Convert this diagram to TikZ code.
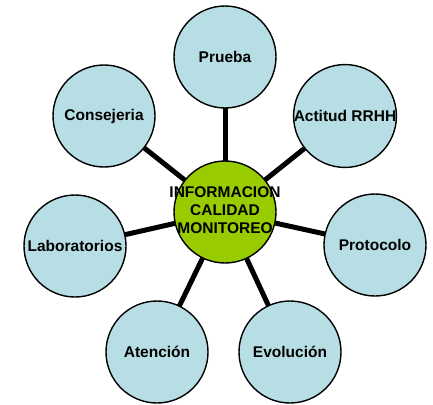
\documentclass[tikz,border=0pt]{standalone}
\usepackage{fontspec}
\setmainfont{Liberation Sans}
\usetikzlibrary{backgrounds}

\definecolor{celeste}{RGB}{183,222,228}
\definecolor{verde}{RGB}{153,204,0}

\begin{document}
\begin{tikzpicture}[x=1pt, y=-1pt,
    tema/.style={circle, draw=black, line width=1.4pt, fill=celeste, minimum size=102pt, inner sep=0pt,
                 font=\fontsize{15.5}{18}\selectfont\bfseries},
    centro/.style={tema, fill=verde, minimum size=102pt,
                   font=\fontsize{15.5}{18.3}\selectfont\bfseries},
    rayo/.style={line width=5pt, black}]

    % Marco de la figura
    \useasboundingbox (0,0) rectangle (433,404);

    % Circulo central (el texto sobresale del borde)
    \node[centro] (info) at (225,212)
        {\makebox[0pt]{\begin{tabular}{@{}c@{}}INFORMACION\\CALIDAD\\MONITOREO\end{tabular}}};

    % Circulos exteriores
    \node[tema] (prueba)   at (225,57)  {Prueba};
    \node[tema] (actitud)  at (345,116) {Actitud RRHH};
    \node[tema] (protocolo) at (375,245) {Protocolo};
    \node[tema] (evolucion) at (290,352) {Evolución};
    \node[tema] (atencion) at (157,352) {Atención};
    \node[tema] (laborat)  at (75,246)  {Laboratorios};
    \node[tema] (consej)   at (104,116) {Consejeria};

    % Rayos desde el centro
    \begin{scope}[on background layer]
        \foreach \n in {prueba, actitud, protocolo, evolucion, atencion, laborat, consej}
            \draw[rayo] (info.center) -- (\n.center);
    \end{scope}

\end{tikzpicture}
\end{document}
